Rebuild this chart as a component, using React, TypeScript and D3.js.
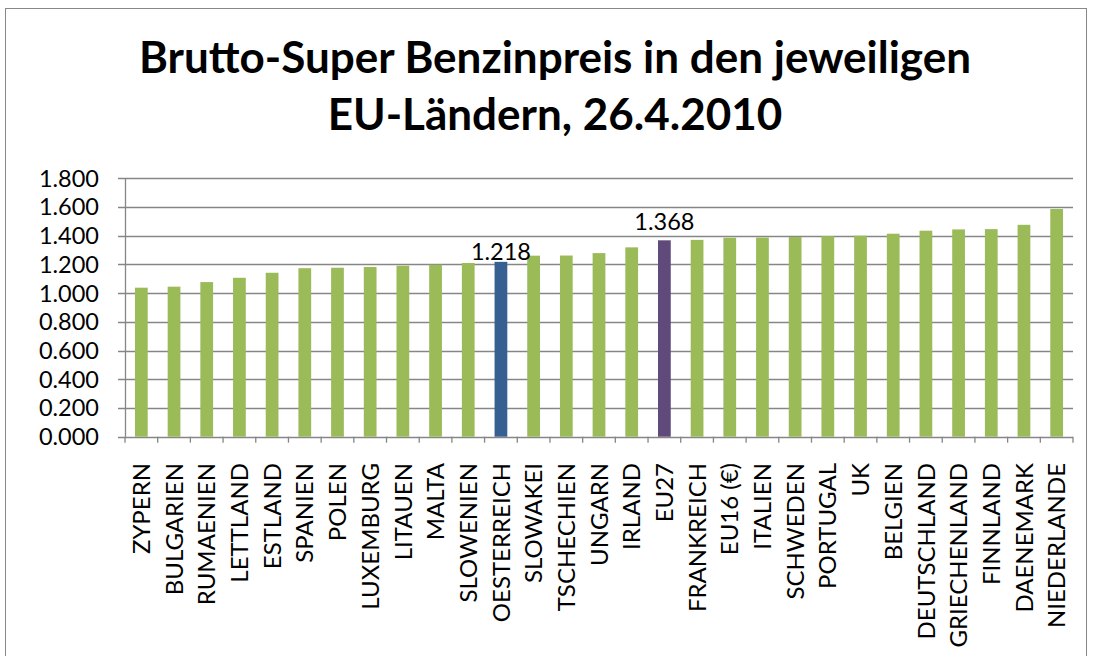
import React from "react";
import * as d3 from "d3";

const categories = [
  "ZYPERN", "BULGARIEN", "RUMAENIEN", "LETTLAND", "ESTLAND", "SPANIEN", "POLEN",
  "LUXEMBURG", "LITAUEN", "MALTA", "SLOWENIEN", "OESTERREICH", "SLOWAKEI",
  "TSCHECHIEN", "UNGARN", "IRLAND", "EU27", "FRANKREICH", "EU16 (€)", "ITALIEN",
  "SCHWEDEN", "PORTUGAL", "UK", "BELGIEN", "DEUTSCHLAND", "GRIECHENLAND",
  "FINNLAND", "DAENEMARK", "NIEDERLANDE",
];
const values = [
  1.038, 1.045, 1.077, 1.107, 1.142, 1.174, 1.177, 1.182, 1.191, 1.198, 1.21,
  1.218, 1.261, 1.262, 1.279, 1.319, 1.368, 1.371, 1.386, 1.387, 1.391, 1.397,
  1.4, 1.414, 1.435, 1.444, 1.446, 1.476, 1.586,
];
const yTicks = [0, 0.2, 0.4, 0.6, 0.8, 1.0, 1.2, 1.4, 1.6, 1.8];
const labelled = ["OESTERREICH", "EU27"];
const titleLines = ["Brutto-Super Benzinpreis in den jeweiligen", "EU-Ländern, 26.4.2010"];

const colorOf = (c: string) =>
  c === "OESTERREICH" ? "#376092" : c === "EU27" ? "#604A7B" : "#9BBB59";

export default function App() {
  const W = 1093, H = 656;
  const left = 125, right = 1073, top = 178.3, bottom = 436.7;
  const x = d3.scaleBand<string>().domain(categories).range([left, right]).paddingInner(0.61).paddingOuter(0.305);
  const xb = d3.scaleBand<string>().domain(categories).range([left, right]);
  const y = d3.scaleLinear().domain([0, 1.8]).range([bottom, top]);
  const fmt = d3.format(".3f");
  const font = "Lato, 'Open Sans', sans-serif";
  const grid = "#868686";
  return (
    <svg width={W} height={H} style={{ position: "absolute", left: 0, top: 0, background: "#fff" }}>
      <rect x={5.5} y={8.5} width={1081} height={700} fill="#fff" stroke="#888" strokeWidth={1} />
      {titleLines.map((t, i) => (
        <text key={t} x={555} y={73 + i * 57} textAnchor="middle" fontFamily={font} fontWeight="bold" fontSize={44} fill="#000">
          {t}
        </text>
      ))}
      {yTicks.map((v) => (
        <g key={v}>
          <line x1={left - 7} x2={right} y1={Math.round(y(v)) + 0.5} y2={Math.round(y(v)) + 0.5} stroke={grid} strokeWidth={1.3} />
          <text x={99} y={y(v)} dy="0.36em" textAnchor="end" fontFamily={font} fontSize={23.5} fill="#000">
            {fmt(v)}
          </text>
        </g>
      ))}
      <line x1={left + 0.5} x2={left + 0.5} y1={top} y2={bottom} stroke={grid} strokeWidth={1.3} />
      {categories.map((c) => (
        <line key={"t" + c} x1={xb(c)!} x2={xb(c)!} y1={bottom} y2={bottom + 6} stroke={grid} strokeWidth={1.3} />
      ))}
      <line x1={right} x2={right} y1={bottom} y2={bottom + 6} stroke={grid} strokeWidth={1.3} />
      {categories.map((c, i) => (
        <rect key={"b" + c} x={x(c)!} y={y(values[i])} width={x.bandwidth()} height={bottom - y(values[i])} fill={colorOf(c)} />
      ))}
      {categories.map((c, i) =>
        labelled.includes(c) ? (
          <text key={"l" + c} x={x(c)! + x.bandwidth() / 2} y={y(values[i]) - (c === "EU27" ? 10 : 2)} textAnchor="middle" fontFamily={font} fontSize={23.5} fill="#000">
            {fmt(values[i])}
          </text>
        ) : null
      )}
      {categories.map((c) => {
        const cx = xb(c)! + xb.bandwidth() / 2;
        return (
          <text key={"x" + c} transform={`translate(${cx},463) rotate(-90)`} dy="0.36em" textAnchor="end" fontFamily={font} fontSize={24} fill="#000">
            {c}
          </text>
        );
      })}
    </svg>
  );
}
